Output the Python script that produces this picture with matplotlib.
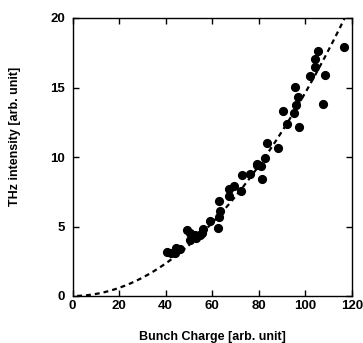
import numpy as np
import matplotlib
matplotlib.use("Agg")
import matplotlib.pyplot as plt

plt.rcParams['font.family'] = ['Liberation Sans', 'DejaVu Sans']
plt.rcParams['font.weight'] = 'bold'

charge = [40.6, 42.2, 43.9, 44.6, 46.1, 49.1, 50.6, 50.4, 51.5, 52.5, 53.2, 54.6, 55.6, 56.1,
          58.9, 62.5, 62.8, 63.2, 62.9, 67.0, 67.4, 69.2, 72.5, 72.7, 76.1, 79.0, 79.4,
          81.3, 81.1, 82.5, 83.7, 88.3, 90.4, 92.3, 95.3, 95.6, 96.0, 97.0, 97.2, 102.1,
          103.9, 104.0, 105.2, 108.3, 107.7, 116.7]
intensity = [3.15, 3.07, 3.10, 3.43, 3.36, 4.73, 4.51, 4.03, 4.23, 4.39, 4.15, 4.39, 4.56, 4.80,
             5.38, 4.90, 6.84, 6.12, 5.71, 7.73, 7.16, 7.88, 7.56, 8.67, 8.79, 9.41, 9.51,
             8.40, 9.36, 9.94, 11.0, 10.68, 13.33, 12.39, 13.18, 15.03, 13.73, 14.29, 12.15, 15.82,
             17.07, 16.47, 17.62, 15.89, 13.78, 17.89]
fit_coef = 0.001464

fig = plt.figure(figsize=(3.63, 3.43), dpi=100)
ax = fig.add_axes([72.5/363, 1 - 296/343, (352 - 72.5)/363, (296 - 18)/343])

xf = np.linspace(2, 117, 200)
ax.plot(xf, fit_coef * xf**2, color='black', lw=1.6, dashes=(2.2, 1.8))
ax.plot(charge, intensity, 'o', color='black', ms=5.6, mec='black')

ax.set_xlim(0, 120)
ax.set_ylim(0, 20)
ax.set_xticks([0, 20, 40, 60, 80, 100, 120])
ax.set_yticks([0, 5, 10, 15, 20])
ax.tick_params(direction='in', top=True, right=True, length=4, width=1, labelsize=9.5)
ax.tick_params(axis='y', pad=5.5)
ax.tick_params(axis='x', pad=3)
for lab in ax.get_xticklabels() + ax.get_yticklabels():
    lab.set_fontweight('bold')
for s in ax.spines.values():
    s.set_linewidth(1.0)
ax.set_xlabel('Bunch Charge [arb. unit]', fontsize=9, fontweight='bold')
ax.set_ylabel('THz intensity [arb. unit]', fontsize=9, fontweight='bold')
ax.xaxis.set_label_coords(0.5, -(340 - 296) / 278, transform=ax.transAxes)
ax.xaxis.label.set_va('baseline')
ax.yaxis.set_label_coords((21 - 72.5) / 279.5, (296 - 136) / 278)

fig.savefig('out.png', dpi=100)
